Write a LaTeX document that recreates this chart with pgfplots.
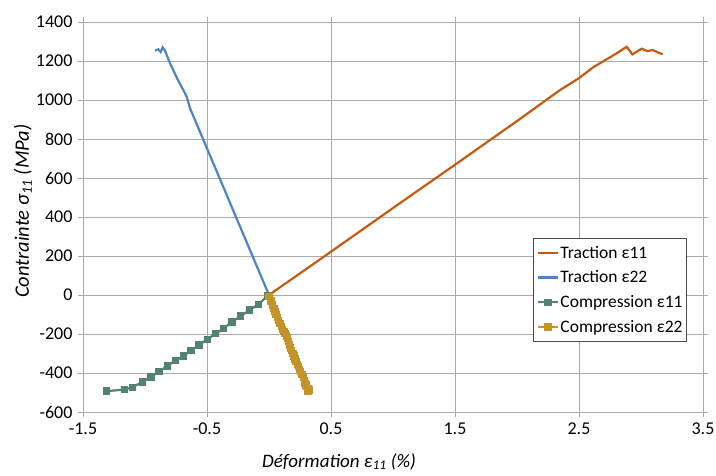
\documentclass[border=0pt]{standalone}
\usepackage{fontspec}
\setmainfont{Carlito}
\usepackage{pgfplots}
\pgfplotsset{compat=1.18}
\definecolor{cOr}{RGB}{197,90,17}
\definecolor{cBl}{RGB}{74,134,192}
\definecolor{cGr}{RGB}{84,130,114}
\definecolor{cGo}{RGB}{196,148,40}
\definecolor{gridc}{RGB}{170,170,170}
\begin{document}
\begin{tikzpicture}
\useasboundingbox (-83pt,-63pt) rectangle (633pt,412pt);
\begin{axis}[at={(0,0)}, anchor=south west, scale only axis,
  width=620pt, height=390pt,
  xmin=-1.5, xmax=3.5, ymin=-600, ymax=1400,
  xtick={-1.5,-0.5,0.5,1.5,2.5,3.5},
  ytick={-600,-400,-200,0,200,400,600,800,1000,1200,1400},
  xticklabels={-1.5,-0.5,0.5,1.5,2.5,3.5},
  yticklabels={-600,-400,-200,0,200,400,600,800,1000,1200,1400},
  grid=major, grid style={color=gridc, line width=0.8pt},
  axis line style={color=gridc, line width=0.8pt},
  tick style={color=gridc, line width=0.8pt},
  tick align=outside, major tick length=5pt,
  ticklabel style={font=\fontsize{18}{21}\selectfont, text=black},
  xticklabel style={yshift=-2pt},
  yticklabel style={xshift=-2pt},
  xlabel={\textit{Déformation ε\textsubscript{11} (\%)}},
  ylabel={\textit{Contrainte σ\textsubscript{11} (MPa)}},
  xlabel style={font=\fontsize{19}{22}\selectfont, at={(axis description cs:0.413,-0.127)}, anchor=center},
  ylabel style={font=\fontsize{20.5}{23}\selectfont, at={(axis description cs:-0.097,0.515)}, anchor=center, rotate=0},
  every axis plot/.append style={line width=2.2pt},
  legend style={at={(0.974,0.446)}, anchor=north east, draw=black!70, line width=0.6pt,
    font=\fontsize{17.5}{20}\selectfont, inner xsep=3pt, inner ysep=2pt,
    nodes={inner xsep=1pt, inner ysep=5.6pt}},
  legend cell align=left,
  legend image code/.code={\draw[mark repeat=2,mark phase=2,#1, line width=2.2pt] plot coordinates {(0cm,0cm) (0.36cm,0cm) (0.72cm,0cm)};},
]
\addplot[cOr, no markers] coordinates {
(0,0) (0.5,222) (1.0,446) (1.5,668) (2.0,892) (2.347,1051) (2.5,1112) (2.615,1168) (2.7,1200) (2.8,1238) (2.885,1273) (2.93,1234) (3.005,1263) (3.05,1251) (3.094,1256) (3.13,1246) (3.175,1234)
};
\addlegendentry{Traction ε11}
\addplot[cBl, no markers] coordinates {
(0,0) (-0.133,200) (-0.266,400) (-0.399,600) (-0.532,800) (-0.637,958) (-0.664,1017) (-0.677,1034) (-0.74,1110) (-0.798,1188) (-0.839,1253) (-0.857,1270) (-0.874,1246) (-0.893,1260) (-0.919,1253)
};
\addlegendentry{Traction ε22}
\addplot[cGr, mark=square*, mark size=2.6pt, mark options={solid}] coordinates {
(-0.01,-4) (-0.086,-48) (-0.156,-77) (-0.228,-108) (-0.298,-138) (-0.365,-171) (-0.43,-198) (-0.497,-227) (-0.565,-256) (-0.629,-286) (-0.691,-313) (-0.756,-337) (-0.82,-364) (-0.887,-393) (-0.952,-420) (-1.022,-446) (-1.10,-473) (-1.167,-485) (-1.309,-493)
};
\addlegendentry{Compression ε11}
\addplot[cGo, mark=square*, mark size=2.6pt, mark options={solid}] coordinates {
(0.0,-8) (0.015,-30) (0.030,-51) (0.039,-68) (0.048,-85) (0.057,-100) (0.067,-115) (0.078,-130) (0.089,-145) (0.100,-160) (0.110,-176) (0.120,-187) (0.129,-197) (0.139,-210) (0.148,-222) (0.156,-239) (0.164,-256) (0.174,-271) (0.183,-286) (0.193,-300) (0.202,-313) (0.210,-328) (0.218,-342) (0.228,-355) (0.237,-368) (0.247,-381) (0.256,-393) (0.267,-408) (0.277,-422) (0.284,-438) (0.290,-453) (0.297,-462) (0.304,-470) (0.315,-479) (0.325,-487) (0.317,-492) (0.309,-496)
};
\addlegendentry{Compression ε22}
\end{axis}
\end{tikzpicture}
\end{document}
